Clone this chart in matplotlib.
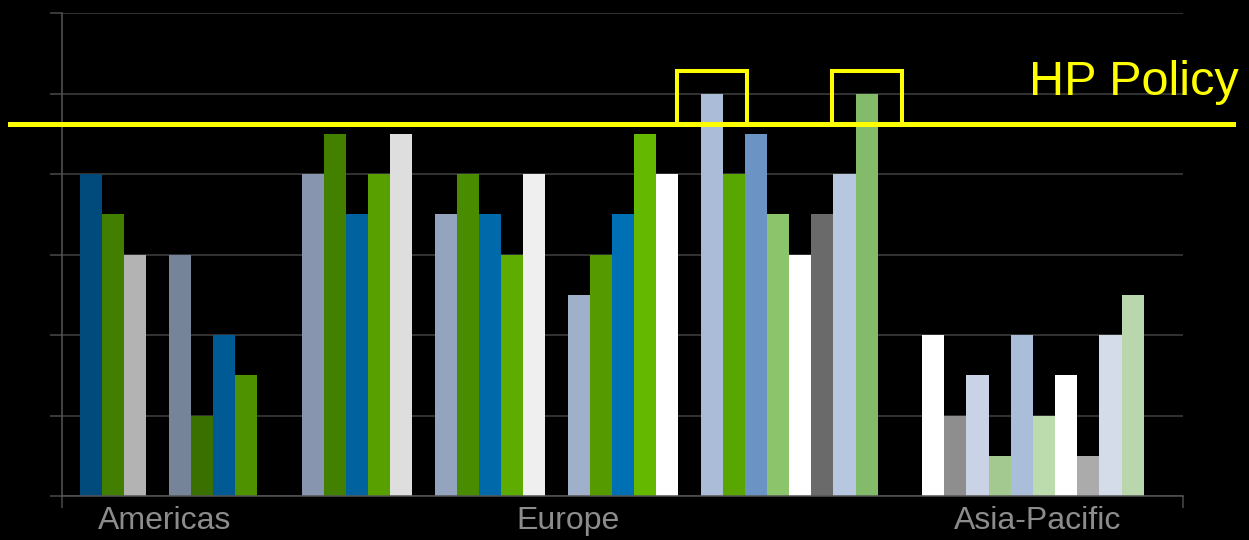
import numpy as np
import matplotlib.pyplot as plt
from matplotlib.patches import Rectangle

# bar heights per group, in grid units
group_values = [
    [4, 3.5, 3],
    [3, 1, 2, 1.5],
    [4, 4.5, 3.5, 4, 4.5],
    [3.5, 4, 3.5, 3, 4],
    [2.5, 3, 3.5, 4.5, 4],
    [5, 4, 4.5, 3.5, 3, 3.5, 4, 5],
    [2, 1, 1.5, 0.5, 2, 1, 1.5, 0.5, 2, 2.5],
]
regions = ["Americas", "Europe", "Asia-Pacific"]
hp_policy = 4.62
highlight = [(5, 0), (5, 7)]   # (group, bar) boxed above the policy line

group_colors = [
    ["#004b7c", "#427f00", "#b3b3b3"],
    ["#76849a", "#3a7000", "#005a94", "#4f9200"],
    ["#8895ae", "#448000", "#0063a0", "#58a000", "#dedede"],
    ["#94a4bf", "#4a8c00", "#0069aa", "#5eac00", "#efefef"],
    ["#a0b0cb", "#559b00", "#0070b5", "#64b800", "#ffffff"],
    ["#abbcd8", "#59a600", "#6b94c4", "#8bc46a", "#ffffff", "#6a6a6a", "#b8c7e0", "#84bb6a"],
    ["#ffffff", "#8e8e8e", "#c9d3e5", "#a3c990", "#aabdd9", "#bcdcae", "#ffffff", "#ababab", "#d4dbe9", "#b9d6ac"],
]
gaps = [0, 1, 2, 1, 1, 1, 2]
label_x = [3.84, 22.0, 43.2]

fig = plt.figure(figsize=(12.49, 5.40), dpi=100, facecolor="black")
ax = fig.add_axes([62/1249, 1-496/540, 1121/1249, 483/540])
ax.set_facecolor("black")

pos = 0
starts = []
for vals, cols, gap in zip(group_values, group_colors, gaps):
    pos += gap
    starts.append(pos)
    x = pos + np.arange(len(vals))
    ax.bar(x, vals, width=1, align="edge", color=cols, linewidth=0, zorder=2)
    pos += len(vals)

ax.set_xlim(-0.81, 49.77)
ax.set_ylim(0, 6)
ax.set_yticks(range(7))
ax.set_yticklabels([])
ax.set_xticks([-0.81, 49.77])
ax.set_xticklabels([])
ax.grid(axis="y", color="#404040", linewidth=1.1, zorder=0)
ax.set_axisbelow(True)
ax.tick_params(axis="both", direction="out", length=8.6, width=1.1, color="#4a4a4a")
for s in ["top", "right"]:
    ax.spines[s].set_visible(False)
for s in ["left", "bottom"]:
    ax.spines[s].set_color("#555555")
    ax.spines[s].set_linewidth(1.1)

# policy line and boxes
ax.axhline(hp_policy, xmin=-0.046, xmax=1.0446, color="#ffff00", linewidth=3.6, clip_on=False, zorder=5)
for g, b in highlight:
    cx = starts[g] + b + 0.5
    ax.add_patch(Rectangle((cx - 1.58, hp_policy), 3.16, 5.28 - hp_policy, fill=False,
                           edgecolor="#ffff00", linewidth=2.9, zorder=5, clip_on=False))

fig.text(1029/1249, 1-95/540, "HP Policy", color="#ffff00", fontsize=35, va="baseline",
         family=["Liberation Sans", "DejaVu Sans"])

for lx, name in zip(label_x, regions):
    ax.annotate(name, (lx, 0), xycoords=("data", "axes fraction"), xytext=(0, -33),
                textcoords="offset pixels", ha="center", va="baseline", color="#8c8c8c",
                fontsize=23, family=["Liberation Sans", "DejaVu Sans"])

plt.savefig("out.png", dpi=100, facecolor="black")
